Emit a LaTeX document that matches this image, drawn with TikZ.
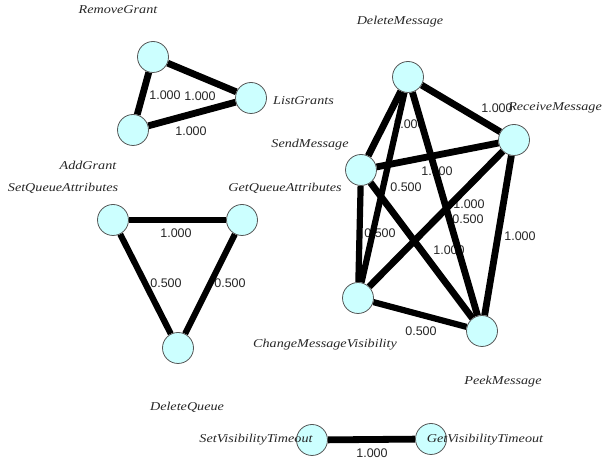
\documentclass[tikz,border=0pt]{standalone}
\usepackage{fontspec}
\setmainfont{Liberation Serif}
\newfontfamily\lblfont[FakeStretch=1.18]{Liberation Serif Italic}
\newfontfamily\numfont{Liberation Sans}
\pgfdeclarelayer{elbl}
\pgfdeclarelayer{edges}
\pgfsetlayers{elbl,edges,main}
\definecolor{nodefill}{HTML}{CCFFFF}
\definecolor{nodeline}{HTML}{555555}
\tikzset{
  vtx/.style={circle,draw=nodeline,line width=0.8pt,fill=nodefill,minimum size=31pt,inner sep=0pt},
  vlbl/.style={font=\lblfont\fontsize{12}{14}\selectfont,inner sep=0pt,text=black!85},
  wlbl/.style={font=\numfont\fontsize{12.5}{14}\selectfont,inner sep=0pt,text=black!85},
  edgeA/.style={line width=6.8pt,black},
  edgeB/.style={line width=6.2pt,black}
}
\begin{document}
\begin{tikzpicture}[x=1pt,y=1pt]
\useasboundingbox (0,0) rectangle (603,465);
% vertices
\node[vtx] (RG) at (153,408) {};
\node[vtx] (LG) at (251,367) {};
\node[vtx] (AG) at (133,335) {};
\node[vtx] (DM) at (408,388) {};
\node[vtx] (RM) at (514,325) {};
\node[vtx] (SM) at (361,295) {};
\node[vtx] (CMV) at (358,167) {};
\node[vtx] (PM) at (482,134) {};
\node[vtx] (SQA) at (113,245) {};
\node[vtx] (GQA) at (242,245) {};
\node[vtx] (DQ) at (178,117) {};
\node[vtx] (SVT) at (312,25) {};
\node[vtx] (GVT) at (431,26) {};
% edges
\begin{pgfonlayer}{edges}
\draw[edgeA] (RG) -- (LG);
\draw[edgeA] (RG) -- (AG);
\draw[edgeA] (AG) -- (LG);
\draw[edgeA] (SQA) -- (GQA);
\draw[edgeB] (SQA) -- (DQ);
\draw[edgeB] (GQA) -- (DQ);
\draw[edgeA] (SVT) -- (GVT);
\draw[edgeA] (DM) -- (RM);
\draw[edgeA] (DM) -- (SM);
\draw[edgeB] (DM) -- (CMV);
\draw[edgeA] (DM) -- (PM);
\draw[edgeA] (SM) -- (RM);
\draw[edgeB] (SM) -- (CMV);
\draw[edgeA] (SM) -- (PM);
\draw[edgeA] (RM) -- (CMV);
\draw[edgeA] (RM) -- (PM);
\draw[edgeB] (CMV) -- (PM);
\end{pgfonlayer}
% edge labels
\begin{pgfonlayer}{elbl}
\node[wlbl] (w1) at (165,370) {1.000};
\node[wlbl] (w2) at (200,369) {1.000};
\node[wlbl] (w3) at (191,334) {1.000};
\node[wlbl] (w4) at (176,232) {1.000};
\node[wlbl] (w5) at (166,182) {0.500};
\node[wlbl] (w6) at (230,182) {0.500};
\node[wlbl] (w7) at (372,12) {1.000};
\node[wlbl] (w8) at (497,357) {1.000};
\node[wlbl] (w9) at (409,341) {1.000};
\node[wlbl] (w10) at (437,294) {1.000};
\node[wlbl] (w11) at (406,278) {0.500};
\node[wlbl] (w12) at (469,261) {1.000};
\node[wlbl] (w13) at (468,246) {0.500};
\node[wlbl] (w14) at (520,229) {1.000};
\node[wlbl] (w15) at (380,232) {0.500};
\node[wlbl] (w16) at (449,215) {1.000};
\node[wlbl] (w17) at (421,134) {0.500};
\end{pgfonlayer}
% vertex labels
\node[vlbl] (tRG) at (118,455) {RemoveGrant};
\node[vlbl,anchor=west] (tLG) at (273,364) {ListGrants};
\node[vlbl] (tAG) at (88,300) {AddGrant};
\node[vlbl] (tSQA) at (63,277) {SetQueueAttributes};
\node[vlbl] (tGQA) at (285,277) {GetQueueAttributes};
\node[vlbl] (tDM) at (400,443) {DeleteMessage};
\node[vlbl,anchor=east] (tRM) at (602,357) {ReceiveMessage};
\node[vlbl] (tSM) at (310,320) {SendMessage};
\node[vlbl] (tCMV) at (325,120) {ChangeMessageVisibility};
\node[vlbl] (tPM) at (503,83) {PeekMessage};
\node[vlbl] (tDQ) at (187,58) {DeleteQueue};
\node[vlbl] (tSVT) at (256,25) {SetVisibilityTimeout};
\node[vlbl] (tGVT) at (485,25) {GetVisibilityTimeout};
\end{tikzpicture}
\end{document}
